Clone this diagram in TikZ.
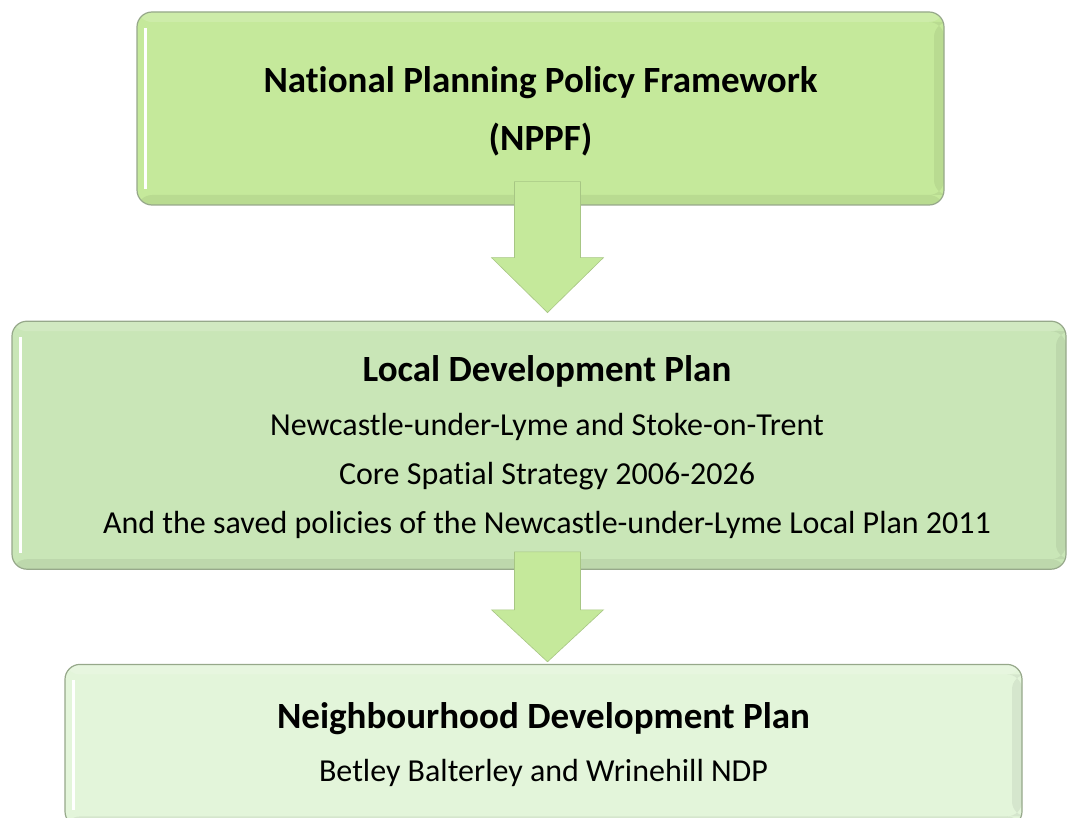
\documentclass[tikz,border=0pt]{standalone}
\usepackage{fontspec}
\setmainfont{Carlito}[Ligatures=NoCommon]
\usetikzlibrary{positioning}
\usetikzlibrary{calc}
\definecolor{nppfgreen}{RGB}{197,233,155}
\definecolor{ldpgreen}{RGB}{201,230,183}
\definecolor{ndpgreen}{RGB}{227,245,218}
\definecolor{edgegreen}{RGB}{150,168,138}
\definecolor{arrowgreen}{RGB}{197,233,155}

\begin{document}
\begin{tikzpicture}[x=1pt,y=-1pt,
    plan box/.style={draw=edgegreen,line width=1.2pt,rounded corners=15pt,inner sep=0pt,
      path picture={
        \fill[black,opacity=0.06] (path picture bounding box.south west) rectangle ([yshift=10pt]path picture bounding box.south east);
        \fill[black,opacity=0.06] ([xshift=-10pt,yshift=10pt]path picture bounding box.south east) rectangle ([yshift=-10pt]path picture bounding box.north east);
        \fill[white,opacity=0.15] ([yshift=-10pt]path picture bounding box.north west) rectangle (path picture bounding box.north east);
        \draw[white,line width=3pt] ([shift={(8pt,-16pt)}]path picture bounding box.north west) -- ([shift={(8pt,16pt)}]path picture bounding box.south west);
      }},
    plan text/.style={align=center,inner sep=0pt,font=\fontsize{32}{49}\selectfont},
    block arrow/.style={fill=arrowgreen,draw=arrowgreen!85!black,line width=0.6pt}]

  \useasboundingbox (0,0) rectangle (1067,818);

  \node[plan box,fill=nppfgreen,minimum width=807pt,minimum height=193pt] (nppf) at (540.5,108.5) {};
  \node[plan box,fill=ldpgreen,minimum width=1054pt,minimum height=248pt] (ldp) [below=115pt of nppf,xshift=-1.5pt] {};
  \node[plan box,fill=ndpgreen,minimum width=957pt,minimum height=162pt] (ndp) [below=94pt of ldp,xshift=4.5pt] {};

  \node[plan text,font=\fontsize{37}{58}\selectfont\bfseries] (nppftext) at ($(nppf.center)+(0,3)$)
    {Nat\kern0pt ional Planning Policy Framework\\(NPPF)};
  \node[plan text] (ldptext) at ($(ldp.center)+(8,2)$)
    {{\fontsize{37}{44}\selectfont\bfseries Local Development Plan}\\[5pt]
     Newcastle-under-Lyme and Stoke-on-Trent\\
     Core Spat\kern0pt ial Strategy 2006-2026\\
     And the saved policies of the Newcastle-under-Lyme Local Plan 2011};
  \node[plan text] (ndptext) at ($(ndp.center)+(0,-1)$)
    {{\fontsize{37}{44}\selectfont\bfseries Neighbourhood Development Plan}\\[4pt]
     Betley Balterley and Wrinehill NDP};

  \coordinate (a1top) at ($(nppf.south)+(7,-24)$);
  \coordinate (a1tip) at ($(ldp.north)+(8.5,-8)$);
  \coordinate (a2top) at ($(ldp.south)+(8.5,-18)$);
  \coordinate (a2tip) at ($(ndp.north)+(4,-2)$);

  \draw[block arrow] ($(a1top)+(-33,0)$) -- ($(a1top)+(33,0)$) -- ($(a1tip)+(33,-55)$)
    -- ($(a1tip)+(56,-55)$) -- (a1tip) -- ($(a1tip)+(-56,-55)$) -- ($(a1tip)+(-33,-55)$) -- cycle;
  \draw[block arrow] ($(a2top)+(-33,0)$) -- ($(a2top)+(33,0)$) -- ($(a2tip)+(33,-52)$)
    -- ($(a2tip)+(56,-52)$) -- (a2tip) -- ($(a2tip)+(-56,-52)$) -- ($(a2tip)+(-33,-52)$) -- cycle;
\end{tikzpicture}
\end{document}
